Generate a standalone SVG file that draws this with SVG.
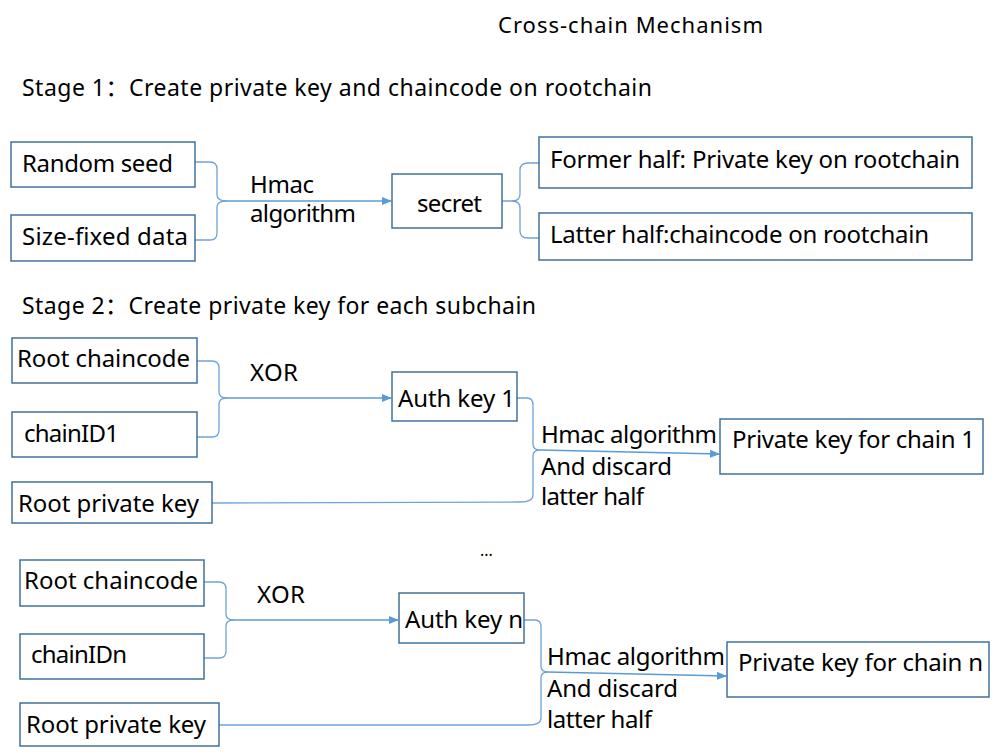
<svg xmlns="http://www.w3.org/2000/svg" width="1000" height="756" viewBox="0 0 1000 756">
<defs>
<marker id="arr" markerWidth="10" markerHeight="8" refX="9" refY="4" orient="auto" markerUnits="userSpaceOnUse"><path d="M0,0 L10,4 L0,8 z" fill="#5B9BD5"/></marker>
<style>
.box{fill:#fff;stroke:#41719C;stroke-width:1.5}
.t{font-family:"Noto Sans","Open Sans","Noto Sans CJK SC",sans-serif;font-size:24px;fill:#000}
.h{font-family:"Noto Sans","Open Sans","Noto Sans CJK SC",sans-serif;font-size:23px;fill:#000}
.c{fill:none;stroke:#6FA3DA;stroke-width:1.3}
.a{fill:none;stroke:#5B9BD5;stroke-width:1.3;marker-end:url(#arr)}
</style>
</defs>
<rect width="1000" height="756" fill="#fff"/>
<g id="titles">
<text class="h" x="498" y="33" textLength="265" lengthAdjust="spacing" style="font-size:22px">Cross-chain Mechanism</text>
<text class="h" x="22" y="96" textLength="630" lengthAdjust="spacing">Stage 1：Create private key and chaincode on rootchain</text>
<text class="h" x="22" y="314" textLength="514" lengthAdjust="spacing">Stage 2：Create private key for each subchain</text>
<text class="h" x="480" y="556" style="font-size:16px">...</text>
</g>
<g id="connectors">
<path class="c" d="M195,162 L210,162 Q217,162 217,169 L217,195 Q217,201 227,201"/>
<path class="c" d="M195,240 L210,240 Q217,240 217,233 L217,207 Q217,201 227,201"/>
<path class="a" d="M227,201 L391,201"/>
<path class="c" d="M502,201 L512,201 Q520,201 520,194 L520,170 Q520,163 528,163 L539,163"/>
<path class="c" d="M512,201 Q520,201 520,208 L520,231 Q520,238 528,238 L539,238"/>
<path class="c" d="M197,361 L212,361 Q219,361 219,368 L219,392 Q219,398 227,398"/>
<path class="c" d="M197,437 L212,437 Q219,437 219,430 L219,404 Q219,398 227,398"/>
<path class="a" d="M227,398 L391,398"/>
<path class="c" d="M517,398 L527,398 Q533,398 533,405 L533,444 Q533,450 540,450"/>
<path class="c" d="M212,503 L520,502 Q533,502 533,495 L533,456 Q533,450 540,450"/>
<path class="a" d="M540,450 L719,454"/>
<path class="c" d="M204,582 L219,582 Q226,582 226,589 L226,614 Q226,620 234,620"/>
<path class="c" d="M204,658 L219,658 Q226,658 226,651 L226,626 Q226,620 234,620"/>
<path class="a" d="M234,620 L398,620"/>
<path class="c" d="M524,620 L535,620 Q541,620 541,627 L541,666 Q541,672 548,672"/>
<path class="c" d="M219,725 L528,725 Q541,725 541,718 L541,678 Q541,672 548,672"/>
<path class="a" d="M548,672 L726,676"/>
</g>
<g id="random-seed"><rect class="box" x="11" y="142" width="184" height="45"/><text class="t" x="22" y="172" textLength="151" lengthAdjust="spacing">Random seed</text></g>
<g id="size-fixed"><rect class="box" x="11" y="215" width="184" height="46"/><text class="t" x="22" y="245" textLength="166" lengthAdjust="spacing">Size-fixed data</text></g>
<g id="hmac-label"><text class="t" x="250" y="193" textLength="64" lengthAdjust="spacing">Hmac</text><text class="t" x="250" y="222" textLength="106" lengthAdjust="spacing">algorithm</text></g>
<g id="secret"><rect class="box" x="392" y="174" width="110" height="54"/><text class="t" x="417" y="212" textLength="65" lengthAdjust="spacing">secret</text></g>
<g id="former"><rect class="box" x="539" y="137" width="433" height="51"/><text class="t" x="550" y="168" textLength="410" lengthAdjust="spacing">Former half: Private key on rootchain</text></g>
<g id="latter"><rect class="box" x="539" y="213" width="433" height="47"/><text class="t" x="550" y="243" textLength="379" lengthAdjust="spacing">Latter half:chaincode on rootchain</text></g>
<g id="root-chaincode-1"><rect class="box" x="12" y="338" width="185" height="45"/><text class="t" x="17" y="367" textLength="173" lengthAdjust="spacing">Root chaincode</text></g>
<g id="chainid1"><rect class="box" x="12" y="412" width="185" height="45"/><text class="t" x="24" y="442" textLength="95" lengthAdjust="spacing">chainID1</text></g>
<g id="root-private-1"><rect class="box" x="12" y="482" width="200" height="41"/><text class="t" x="18" y="512" textLength="181" lengthAdjust="spacing">Root private key</text></g>
<g id="xor-1"><text class="t" x="250" y="381" textLength="48" lengthAdjust="spacing">XOR</text></g>
<g id="auth-key-1"><rect class="box" x="392" y="372" width="125" height="49"/><text class="t" x="398" y="407" textLength="117" lengthAdjust="spacing">Auth key 1</text></g>
<g id="hmac-1"><text class="t" x="541" y="443" textLength="176" lengthAdjust="spacing">Hmac algorithm</text><text class="t" x="541" y="475" textLength="131" lengthAdjust="spacing">And discard</text><text class="t" x="541" y="505" textLength="103" lengthAdjust="spacing">latter half</text></g>
<g id="private-key-1"><rect class="box" x="720" y="419" width="263" height="55"/><text class="t" x="732" y="448" textLength="243" lengthAdjust="spacing">Private key for chain 1</text></g>
<g id="root-chaincode-n"><rect class="box" x="20" y="560" width="184" height="46"/><text class="t" x="24" y="589" textLength="174" lengthAdjust="spacing">Root chaincode</text></g>
<g id="chainidn"><rect class="box" x="20" y="634" width="184" height="45"/><text class="t" x="31" y="663" textLength="96" lengthAdjust="spacing">chainIDn</text></g>
<g id="root-private-n"><rect class="box" x="20" y="703" width="199" height="43"/><text class="t" x="26" y="733" textLength="180" lengthAdjust="spacing">Root private key</text></g>
<g id="xor-n"><text class="t" x="257" y="603" textLength="48" lengthAdjust="spacing">XOR</text></g>
<g id="auth-key-n"><rect class="box" x="399" y="593" width="125" height="50"/><text class="t" x="405" y="628" textLength="118" lengthAdjust="spacing">Auth key n</text></g>
<g id="hmac-n"><text class="t" x="547" y="665" textLength="178" lengthAdjust="spacing">Hmac algorithm</text><text class="t" x="547" y="697" textLength="131" lengthAdjust="spacing">And discard</text><text class="t" x="547" y="728" textLength="105" lengthAdjust="spacing">latter half</text></g>
<g id="private-key-n"><rect class="box" x="727" y="642" width="262" height="55"/><text class="t" x="738" y="671" textLength="245" lengthAdjust="spacing">Private key for chain n</text></g>
</svg>
